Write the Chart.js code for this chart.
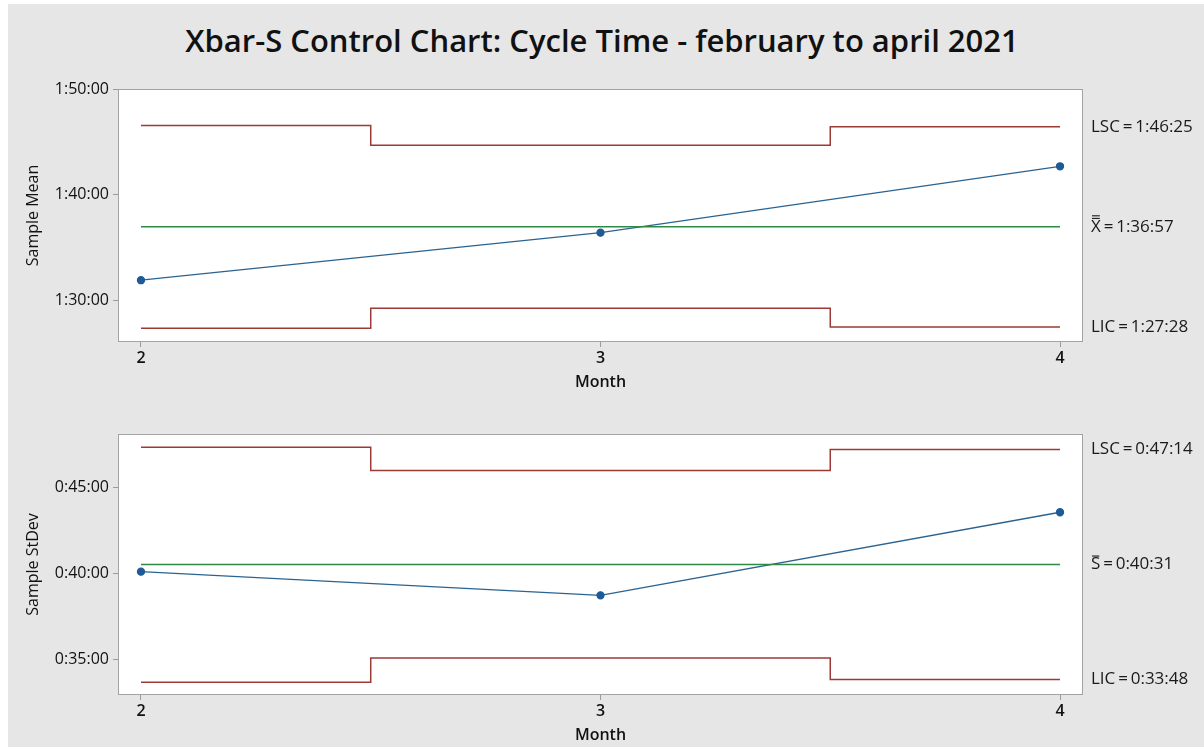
<!DOCTYPE html>
<html>
<head>
<meta charset="utf-8">
<script src="https://cdn.jsdelivr.net/npm/chart.js@4.4.0/dist/chart.umd.min.js"></script>
<style>
  body { margin: 0; width: 1204px; height: 747px; overflow: hidden; position: relative; background: #fff; font-family: 'Open Sans', sans-serif; }
  .panel { position: absolute; left: 8px; top: 4px; right: 0; bottom: 0; background: #e6e6e6; }
  .title { position: absolute; left: 0; width: 1204px; top: 19px; text-align: center; font-size: 31px; font-weight: 600; color: #111; line-height: 42px; }
  canvas { position: absolute; left: 0; }
  #meanChart { top: 0; }
  #sdChart { top: 400px; }
</style>
</head>
<body>
<div class="panel"></div>
<div class="title">Xbar-S Control Chart: Cycle Time - february to april 2021</div>
<canvas id="meanChart" width="1204" height="400"></canvas>
<canvas id="sdChart" width="1204" height="347"></canvas>
<script>
// values in seconds
const months = [2, 3, 4];

const meanValues = [5514, 5784, 6161];
const meanUcl = [6393, 6280, 6385];
const meanLcl = [5241, 5354, 5248];
const meanCenter = 5817;
const meanTicks = [5400, 6000, 6600];

const sdValues = [2406, 2323, 2614];
const sdUcl = [2842, 2760, 2834];
const sdLcl = [2019, 2104, 2028];
const sdCenter = 2431;
const sdTicks = [2100, 2400, 2700];

const limitColor = '#9c3a36';
const centerColor = '#2f8a45';
const lineColor = '#2a6390';
const dotColor = '#1d5a96';

const fmt = (s) => {
  const h = Math.floor(s / 3600);
  const m = Math.floor((s % 3600) / 60);
  const sec = Math.round(s % 60);
  return h + ':' + String(m).padStart(2, '0') + ':' + String(sec).padStart(2, '0');
}

const points = (arr) => months.map((m, i) => ({ x: m, y: arr[i] }));

const makePanel = (id, cfg) => {
  const last = months.length - 1;

  const boxAndLabels = {
    id: 'boxAndLabels',
    beforeDraw(chart) {
      const { ctx, chartArea: a } = chart;
      ctx.save();
      ctx.fillStyle = '#fff';
      ctx.fillRect(a.left, a.top, a.right - a.left, a.bottom - a.top);
      ctx.restore();
    },
    afterDraw(chart) {
      const { ctx, chartArea: a } = chart;
      const y = chart.scales.y;
      ctx.save();
      ctx.strokeStyle = '#a3a3a3';
      ctx.lineWidth = 1;
      ctx.strokeRect(a.left + 0.5, a.top + 0.5, a.right - a.left - 1, a.bottom - a.top - 1);

      ctx.fillStyle = '#1a1a1a';
      ctx.font = '17px "Open Sans"';
      ctx.textBaseline = 'middle';
      const x0 = a.right + 8;
      ctx.fillText('LSC\u2009=\u2009' + fmt(cfg.ucl[last]), x0, y.getPixelForValue(cfg.ucl[last]));
      ctx.fillText('LIC\u2009=\u2009' + fmt(cfg.lcl[last]), x0, y.getPixelForValue(cfg.lcl[last]));

      const cy = y.getPixelForValue(cfg.center);
      ctx.fillText(cfg.sym, x0, cy);
      const w = ctx.measureText(cfg.sym).width;
      for (let i = 0; i < cfg.bars; i++) {
        ctx.fillRect(x0 + 1, cy - 9 - i * 2.6, w - 2, 1.1);
      }
      ctx.fillText('\u2009=\u2009' + fmt(cfg.center), x0 + w, cy);
      ctx.restore();
    }
  };

  return new Chart(document.getElementById(id), {
    type: 'line',
    data: {
      datasets: [
        { data: points(cfg.ucl), stepped: 'middle', borderColor: limitColor, borderWidth: 1.5, pointRadius: 0 },
        { data: points(cfg.lcl), stepped: 'middle', borderColor: limitColor, borderWidth: 1.5, pointRadius: 0 },
        { data: [{ x: months[0], y: cfg.center }, { x: months[last], y: cfg.center }], borderColor: centerColor, borderWidth: 1.5, pointRadius: 0 },
        { data: points(cfg.values), borderColor: lineColor, borderWidth: 1.3, pointRadius: 3.5, pointBackgroundColor: dotColor, pointBorderColor: dotColor }
      ]
    },
    options: {
      responsive: false,
      animation: false,
      devicePixelRatio: 1,
      layout: { padding: { top: cfg.top, right: 121, left: 0, bottom: 0 } },
      plugins: { legend: { display: false }, tooltip: { enabled: false } },
      scales: {
        x: {
          type: 'linear',
          min: 1.95,
          max: 4.05,
          afterBuildTicks: (scale) => { scale.ticks = months.map(v => ({ value: v })); },
          afterFit: (scale) => { scale.height = cfg.xHeight; },
          grid: { drawOnChartArea: false, tickLength: 5, color: '#9a9a9a' },
          border: { display: false },
          ticks: { padding: 2, color: '#111', font: { family: 'Open Sans', size: 16, weight: '600' } },
          title: { display: true, text: 'Month', color: '#111', padding: { top: 0, bottom: cfg.titlePad }, font: { family: 'Open Sans', size: 16, weight: '600' } }
        },
        y: {
          min: cfg.min,
          max: cfg.max,
          afterBuildTicks: (scale) => { scale.ticks = cfg.ticks.map(v => ({ value: v })); },
          afterFit: (scale) => { scale.width = 118; },
          grid: { drawOnChartArea: false, tickLength: 5, color: '#9a9a9a' },
          border: { display: false },
          ticks: { padding: 4, color: '#111', font: { family: 'Open Sans', size: 16 }, callback: (v) => fmt(v) },
          title: { display: true, text: cfg.yTitle, color: '#111', padding: { top: 24 }, font: { family: 'Open Sans', size: 16 } }
        }
      }
    },
    plugins: [boxAndLabels]
  });
}

makePanel('meanChart', {
  values: meanValues, ucl: meanUcl, lcl: meanLcl, center: meanCenter, ticks: meanTicks,
  min: 5163, max: 6600, yTitle: 'Sample Mean', sym: 'X', bars: 2,
  top: 89, xHeight: 58, titlePad: 8
});

makePanel('sdChart', {
  values: sdValues, ucl: sdUcl, lcl: sdLcl, center: sdCenter, ticks: sdTicks,
  min: 1974, max: 2888, yTitle: 'Sample StDev', sym: 'S', bars: 1,
  top: 34, xHeight: 52, titlePad: 2
});
</script>
</body>
</html>
